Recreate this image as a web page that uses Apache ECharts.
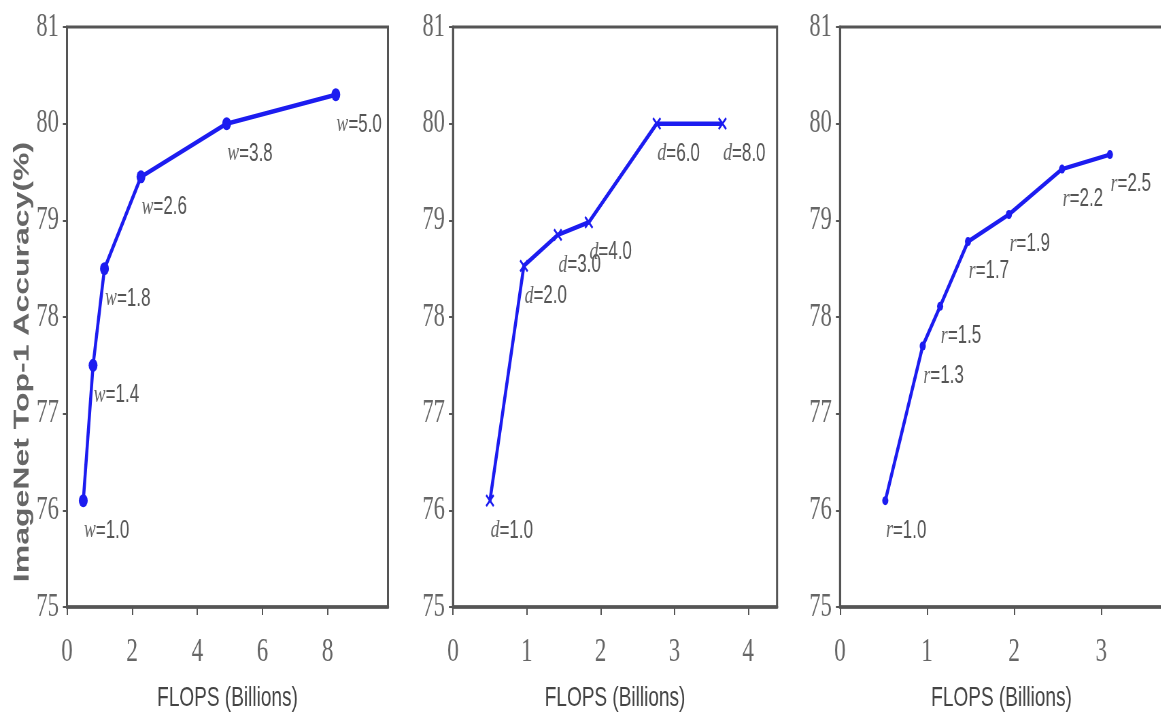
<!DOCTYPE html>
<html>
<head>
<meta charset="utf-8">
<script src="https://cdn.jsdelivr.net/npm/echarts@6/dist/echarts.min.js"></script>
<style>
  html, body { margin:0; padding:0; background:#fff; }
  #wrap { width:1161px; height:724px; overflow:hidden; }
  /* the source figure is squeezed sideways, so draw wide and squeeze the same way */
  #chart { width:1712px; height:724px; transform:scaleX(0.68); transform-origin:0 0; }
</style>
</head>
<body>
<div id="wrap"><div id="chart"></div></div>
<script>
// width scaling (w)
var flopsW = [0.5, 0.8, 1.15, 2.27, 4.9, 8.25];
var accW = [76.1, 77.5, 78.5, 79.45, 80.0, 80.3];
var paramW = [1.0, 1.4, 1.8, 2.6, 3.8, 5.0];

// depth scaling (d)
var flopsD = [0.5, 0.96, 1.42, 1.84, 2.76, 3.65];
var accD = [76.1, 78.53, 78.85, 78.98, 80.0, 80.0];
var paramD = [1.0, 2.0, 3.0, 4.0, 6.0, 8.0];

// resolution scaling (r)
var flopsR = [0.52, 0.95, 1.15, 1.47, 1.94, 2.55, 3.1];
var accR = [76.1, 77.7, 78.11, 78.78, 79.06, 79.53, 79.68];
var paramR = [1.0, 1.3, 1.5, 1.7, 1.9, 2.2, 2.5];

var xTicks1 = [0, 2, 4, 6, 8];
var xTicks2 = [0, 1, 2, 3, 4];
var xTicks3 = [0, 1, 2, 3];
var xMax = [9.85, 4.39, 3.71];

var blue = '#1c1cf0';
var gray = '#555';
var serif = '"Liberation Serif", "Times New Roman", serif';
var sans = '"Liberation Sans", Arial, sans-serif';

function pairs(xs, ys){
  var out = [];
  for (var i = 0; i < xs.length; i++) out.push([xs[i], ys[i]]);
  return out;
}

function makeGrid(left, width){
  return {
    left: left, top: 27, width: width, height: 580,
    show: true, borderColor: gray, borderWidth: 3,
    containLabel: false, outerBoundsMode: 'none'
  };
}

function makeX(idx, max, ticks){
  return {
    gridIndex: idx, type: 'value', min: 0, max: max,
    name: 'FLOPS (Billions)', nameLocation: 'middle', nameGap: 77,
    nameTextStyle: { fontFamily: sans, fontSize: 28, color: '#444' },
    axisLine: { show: true, lineStyle: { color: gray, width: 3.5 } },
    axisTick: { show: true, length: 8, customValues: ticks, lineStyle: { color: gray, width: 2 } },
    axisLabel: { customValues: ticks, margin: 28, fontFamily: serif, fontSize: 34, color: '#666' },
    splitLine: { show: false }
  };
}

function makeY(idx, withName){
  var y = {
    gridIndex: idx, type: 'value', min: 75, max: 81, interval: 1,
    axisLine: { show: true, lineStyle: { color: gray, width: 3 } },
    axisTick: { show: true, length: 6, lineStyle: { color: gray, width: 2 } },
    axisLabel: { margin: 12, fontFamily: serif, fontSize: 33, color: '#666' },
    splitLine: { show: false }
  };
  if (withName) {
    y.name = 'ImageNet Top-1 Accuracy(%)';
    y.nameLocation = 'middle';
    y.nameGap = 46;
    y.nameTextStyle = { fontFamily: sans, fontSize: 32, fontWeight: 'bold', color: '#666', padding: [0, 90, 0, 0] };
  }
  return y;
}

function makeSeries(idx, xs, ys, params, letter, symbol, size){
  return {
    type: 'line', xAxisIndex: idx, yAxisIndex: idx,
    data: pairs(xs, ys),
    symbol: symbol, symbolSize: size,
    lineStyle: { color: blue, width: 4.5 },
    itemStyle: { color: blue, borderColor: blue, borderWidth: symbol.indexOf('path') === 0 ? 2.5 : 0 },
    label: {
      show: true, position: 'inside', align: 'left', verticalAlign: 'middle', offset: [1, 30],
      formatter: function(p){ return '{v|' + letter + '}{n|=' + params[p.dataIndex].toFixed(1) + '}'; },
      rich: {
        v: { fontFamily: serif, fontStyle: 'italic', fontSize: 26, color: '#666' },
        n: { fontFamily: sans, fontSize: 25, color: gray }
      }
    },
    z: 3
  };
}

var chart = echarts.init(document.getElementById('chart'));
var option = {
  animation: false,
  backgroundColor: '#fff',
  grid: [makeGrid(98.5, 472), makeGrid(666.2, 476.5), makeGrid(1235.3, 475)],
  xAxis: [makeX(0, xMax[0], xTicks1), makeX(1, xMax[1], xTicks2), makeX(2, xMax[2], xTicks3)],
  yAxis: [makeY(0, true), makeY(1, false), makeY(2, false)],
  series: [
    makeSeries(0, flopsW, accW, paramW, 'w', 'circle', 13),
    makeSeries(1, flopsD, accD, paramD, 'd', 'path://M0,0L10,10M10,0L0,10', 11),
    makeSeries(2, flopsR, accR, paramR, 'r', 'circle', 9)
  ]
};
chart.setOption(option);
</script>
</body>
</html>
